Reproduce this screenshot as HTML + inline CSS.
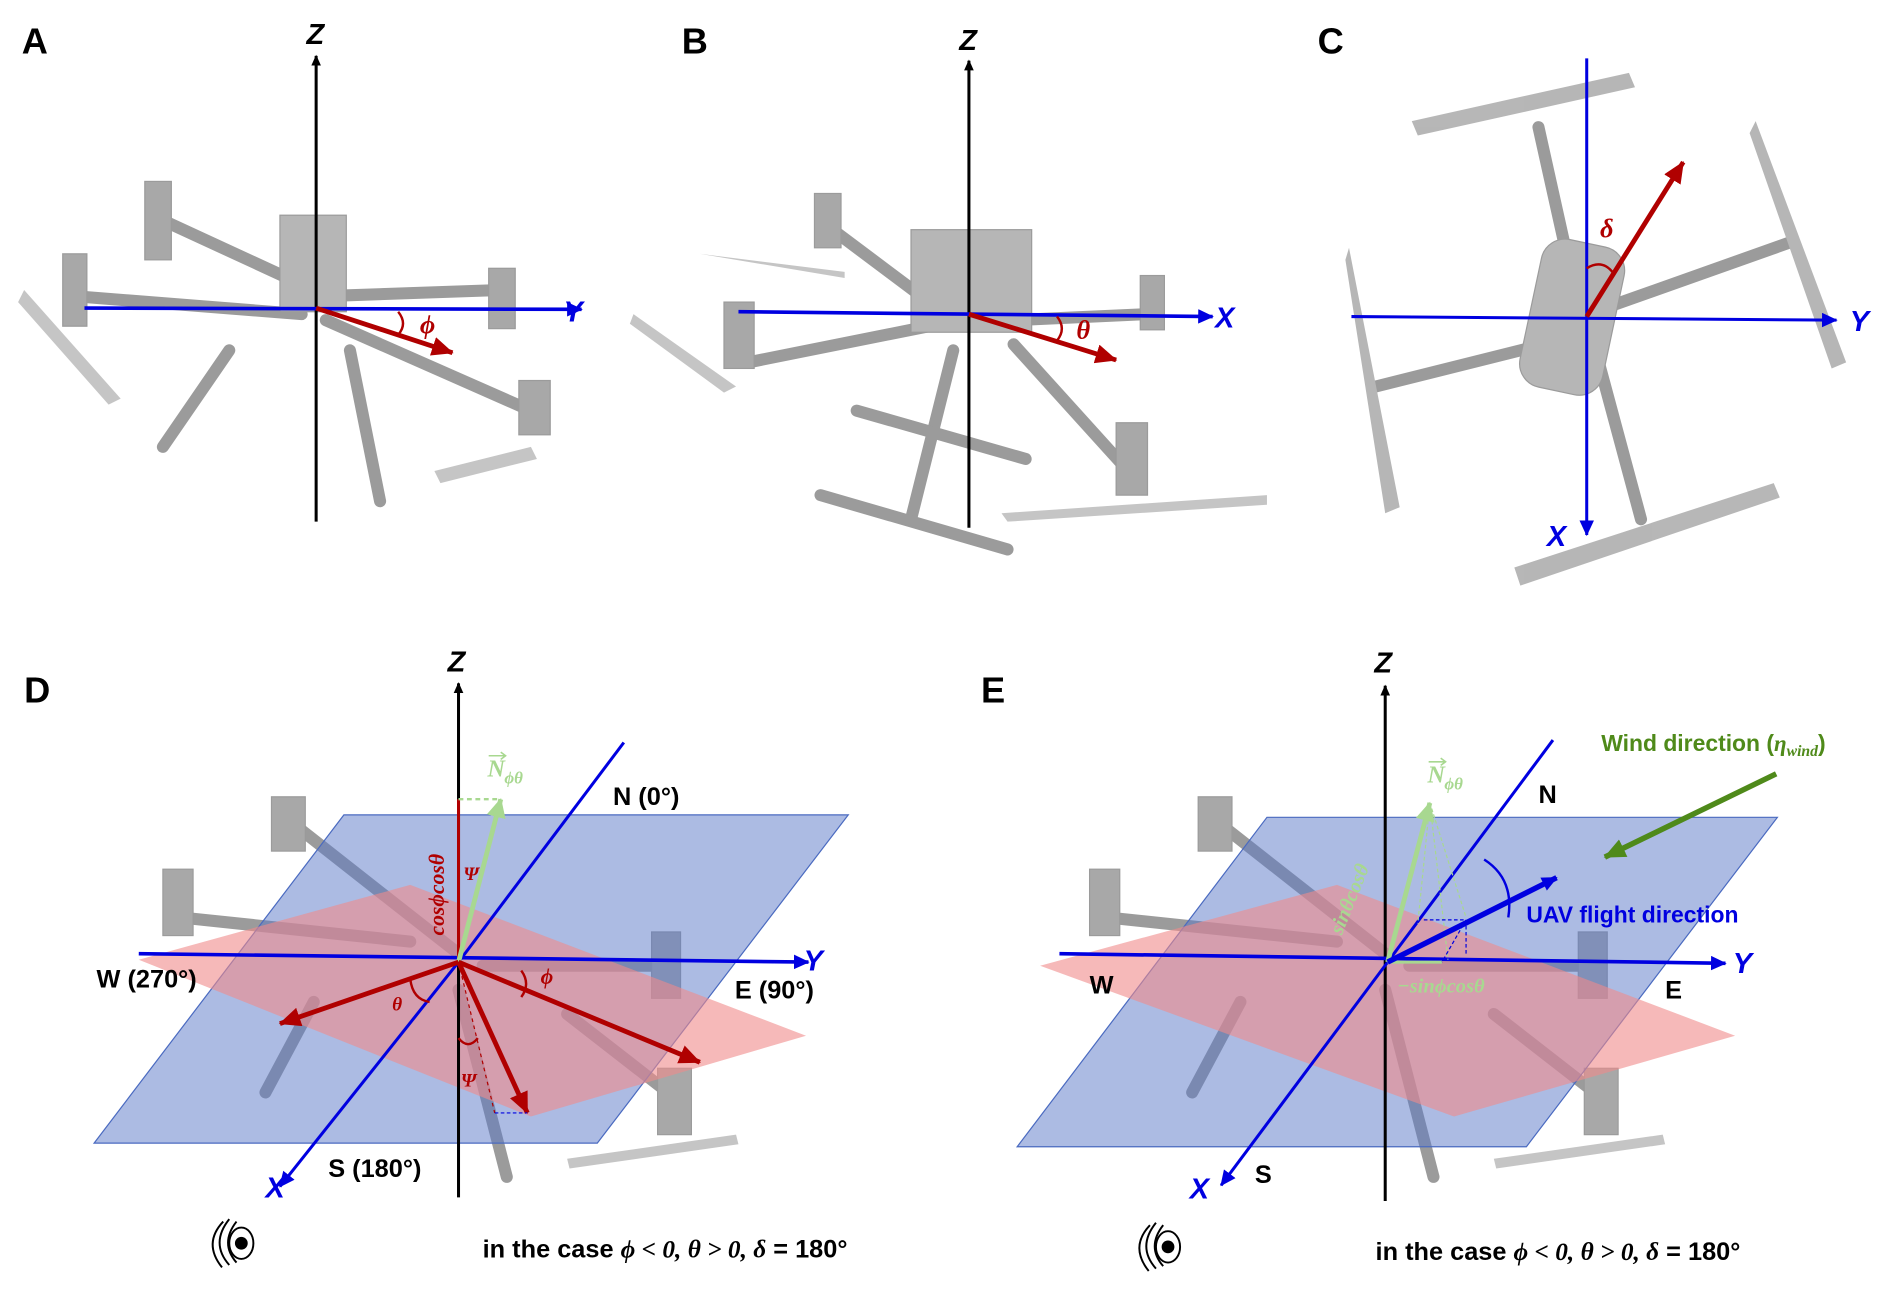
<!DOCTYPE html>
<html><head><meta charset="utf-8"><style>
html,body{margin:0;padding:0;background:#fff}
svg{display:block}
text{font-family:"Liberation Sans",sans-serif}
.lbl{font-weight:bold;font-size:30px}
.ax{font-weight:bold;font-style:italic;font-size:24px}
.dir{font-weight:bold;font-size:21px}
.m{font-family:"Liberation Serif",serif;font-style:italic;font-weight:bold}
</style></head><body>
<svg width="1892" height="1304" viewBox="0 0 1568 1080" xmlns="http://www.w3.org/2000/svg">
<defs>
<marker id="ak" markerWidth="10" markerHeight="10" refX="8" refY="5" orient="auto" markerUnits="userSpaceOnUse"><path d="M0,1 L9,5 L0,9 Z" fill="#000"/></marker>
<marker id="ab" markerWidth="14" markerHeight="12" refX="12" refY="6" orient="auto" markerUnits="userSpaceOnUse"><path d="M0,0 L13,6 L0,12 Z" fill="#0000e0"/></marker>
<marker id="ar" markerWidth="20" markerHeight="16" refX="17" refY="8" orient="auto" markerUnits="userSpaceOnUse"><path d="M0,0 L18,8 L0,16 Z" fill="#b00000"/></marker>
<marker id="ag" markerWidth="18" markerHeight="16" refX="15" refY="8" orient="auto" markerUnits="userSpaceOnUse"><path d="M0,0 L16,8 L0,16 Z" fill="#a8d890"/></marker>
<marker id="adg" markerWidth="20" markerHeight="16" refX="17" refY="8" orient="auto" markerUnits="userSpaceOnUse"><path d="M0,0 L18,8 L0,16 Z" fill="#4f8a1a"/></marker>
</defs>

<!-- ===== Drone silhouettes (grey) ===== -->
<g stroke="#8a8a8a" fill="#9a9a9a" opacity="0.85" stroke-linecap="round">
 <!-- A -->
 <g stroke-width="10">
  <line x1="130" y1="180" x2="260" y2="240"/><line x1="60" y1="245" x2="250" y2="260"/>
  <line x1="270" y1="245" x2="415" y2="240"/><line x1="270" y1="265" x2="440" y2="340"/>
  <line x1="190" y1="290" x2="135" y2="370"/><line x1="290" y1="290" x2="315" y2="415"/>
 </g>
 <rect x="232" y="178" width="55" height="80" fill="#aaa"/>
 <rect x="120" y="150" width="22" height="65"/><rect x="52" y="210" width="20" height="60"/>
 <rect x="405" y="222" width="22" height="50"/><rect x="430" y="315" width="26" height="45"/>
 <path d="M20,240 L100,330 L90,335 L15,250Z M360,390 L440,370 L445,380 L365,400Z" stroke="none" fill="#bbb"/>
 <!-- B -->
 <g stroke-width="10">
  <line x1="690" y1="190" x2="770" y2="250"/><line x1="620" y1="300" x2="770" y2="270"/>
  <line x1="840" y1="265" x2="950" y2="260"/><line x1="840" y1="285" x2="935" y2="390"/>
  <line x1="790" y1="290" x2="755" y2="430"/><line x1="680" y1="410" x2="835" y2="455"/>
  <line x1="710" y1="340" x2="850" y2="380"/>
 </g>
 <rect x="755" y="190" width="100" height="85" fill="#aaa"/>
 <rect x="675" y="160" width="22" height="45"/><rect x="600" y="250" width="25" height="55"/>
 <rect x="945" y="228" width="20" height="45"/><rect x="925" y="350" width="26" height="60"/>
 <path d="M525,260 L610,320 L600,325 L522,268Z M830,425 L1050,410 L1050,418 L835,432Z M580,210 L700,225 L700,230 Z" stroke="none" fill="#bbb"/>
 <!-- C -->
 <g stroke-width="10">
  <line x1="1275" y1="105" x2="1305" y2="240"/><line x1="1140" y1="320" x2="1300" y2="280"/>
  <line x1="1330" y1="255" x2="1485" y2="200"/><line x1="1325" y1="300" x2="1360" y2="430"/>
 </g>
 <rect x="1268" y="200" width="70" height="125" rx="20" fill="#aaa" transform="rotate(12 1303 262)"/>
 <path d="M1170,100 L1350,60 L1355,72 L1175,112Z M1455,100 L1530,300 L1518,305 L1450,110Z M1118,205 L1160,420 L1148,425 L1115,215Z M1255,470 L1470,400 L1475,412 L1260,485Z" stroke="none" fill="#aaa"/>
 <!-- D -->
 <g stroke-width="10">
  <line x1="240" y1="680" x2="380" y2="790"/><line x1="150" y1="760" x2="340" y2="780"/>
  <line x1="400" y1="800" x2="555" y2="800"/><line x1="380" y1="820" x2="420" y2="975"/>
  <line x1="260" y1="830" x2="220" y2="905"/><line x1="470" y1="840" x2="560" y2="910"/>
 </g>
 <rect x="225" y="660" width="28" height="45"/><rect x="135" y="720" width="25" height="55"/>
 <rect x="540" y="772" width="24" height="55"/><rect x="545" y="885" width="28" height="55"/>
 <path d="M470,960 L610,940 L612,948 L472,968Z" stroke="none" fill="#bbb"/>
 <!-- E -->
 <g stroke-width="10">
  <line x1="1008" y1="680" x2="1148" y2="790"/><line x1="918" y1="760" x2="1108" y2="780"/>
  <line x1="1168" y1="800" x2="1323" y2="800"/><line x1="1148" y1="820" x2="1188" y2="975"/>
  <line x1="1028" y1="830" x2="988" y2="905"/><line x1="1238" y1="840" x2="1328" y2="910"/>
 </g>
 <rect x="993" y="660" width="28" height="45"/><rect x="903" y="720" width="25" height="55"/>
 <rect x="1308" y="772" width="24" height="55"/><rect x="1313" y="885" width="28" height="55"/>
 <path d="M1238,960 L1378,940 L1380,948 L1240,968Z" stroke="none" fill="#bbb"/>
</g>

<!-- ===== Planes ===== -->
<polygon points="78,947 285,675 703,675 495,947" fill="#5a78c8" fill-opacity="0.5" stroke="#4a6ac0" stroke-width="1"/>
<polygon points="115,795 340,733 668,858 440,925" fill="#f08a8a" fill-opacity="0.6"/>
<polygon points="843,950 1050,677 1473,677 1265,950" fill="#5a78c8" fill-opacity="0.5" stroke="#4a6ac0" stroke-width="1"/>
<polygon points="862,800 1108,733 1438,858 1205,925" fill="#f08a8a" fill-opacity="0.6"/>

<!-- ===== Labels ===== -->
<text x="18" y="44" class="lbl">A</text>
<text x="565" y="44" class="lbl">B</text>
<text x="1092" y="44" class="lbl">C</text>
<text x="20" y="582" class="lbl">D</text>
<text x="813" y="582" class="lbl">E</text>

<!-- ===== A ===== -->
<line x1="262" y1="432" x2="262" y2="46" stroke="#000" stroke-width="2.5" marker-end="url(#ak)"/>
<text x="254" y="36" class="ax">Z</text>
<line x1="70" y1="255" x2="482" y2="256" stroke="#0000e0" stroke-width="3" marker-end="url(#ab)"/>
<text x="467" y="266" class="ax" fill="#0000e0">Y</text>
<line x1="262" y1="255" x2="375" y2="292" stroke="#b00000" stroke-width="4" marker-end="url(#ar)"/>
<path d="M330,258 Q338,268 330,277" stroke="#b00000" stroke-width="2" fill="none"/>
<text x="348" y="276" class="m" fill="#b00000" font-size="22">ϕ</text>

<!-- ===== B ===== -->
<line x1="803" y1="437" x2="803" y2="50" stroke="#000" stroke-width="2.5" marker-end="url(#ak)"/>
<text x="795" y="41" class="ax">Z</text>
<line x1="612" y1="258" x2="1005" y2="262" stroke="#0000e0" stroke-width="3" marker-end="url(#ab)"/>
<text x="1007" y="271" class="ax" fill="#0000e0">X</text>
<line x1="803" y1="260" x2="925" y2="298" stroke="#b00000" stroke-width="4" marker-end="url(#ar)"/>
<path d="M876,262 Q884,272 876,282" stroke="#b00000" stroke-width="2" fill="none"/>
<text x="892" y="280" class="m" fill="#b00000" font-size="22">θ</text>

<!-- ===== C ===== -->
<line x1="1315" y1="48" x2="1315" y2="443" stroke="#0000e0" stroke-width="2.5" marker-end="url(#ab)"/>
<text x="1282" y="452" class="ax" fill="#0000e0">X</text>
<line x1="1120" y1="262" x2="1522" y2="265" stroke="#0000e0" stroke-width="2.5" marker-end="url(#ab)"/>
<text x="1533" y="274" class="ax" fill="#0000e0">Y</text>
<line x1="1315" y1="262" x2="1395" y2="134" stroke="#b00000" stroke-width="4" marker-end="url(#ar)"/>
<path d="M1315,222 Q1328,214 1337,226" stroke="#b00000" stroke-width="2" fill="none"/>
<text x="1326" y="196" class="m" fill="#b00000" font-size="22">δ</text>

<!-- ===== D ===== -->
<line x1="380" y1="992" x2="380" y2="566" stroke="#000" stroke-width="2.5" marker-end="url(#ak)"/>
<text x="371" y="556" class="ax">Z</text>
<line x1="115" y1="790" x2="670" y2="797" stroke="#0000e0" stroke-width="3" marker-end="url(#ab)"/>
<text x="666" y="804" class="ax" fill="#0000e0">Y</text>
<line x1="380" y1="797" x2="517" y2="615" stroke="#0000e0" stroke-width="2.5"/>
<line x1="380" y1="797" x2="232" y2="983" stroke="#0000e0" stroke-width="2.5" marker-end="url(#ab)"/>
<text x="220" y="992" class="ax" fill="#0000e0">X</text>
<text x="508" y="667" class="dir">N (0°)</text>
<text x="80" y="818" class="dir">W (270°)</text>
<text x="609" y="827" class="dir">E (90°)</text>
<text x="272" y="975" class="dir">S (180°)</text>
<line x1="380" y1="797" x2="380" y2="662" stroke="#b00000" stroke-width="2.5"/>
<line x1="380" y1="662" x2="412" y2="662" stroke="#a8d890" stroke-width="2" stroke-dasharray="4,3"/>
<line x1="380" y1="797" x2="415" y2="662" stroke="#a8d890" stroke-width="4" marker-end="url(#ag)"/>
<text x="404" y="643" class="m" fill="#a8d890" font-size="20">N</text>
<text x="418" y="649" class="m" fill="#a8d890" font-size="14">ϕθ</text>
<path d="M405,626 L419,626 M415,623 L419,626 L415,629" stroke="#a8d890" stroke-width="1.3" fill="none"/>
<text transform="translate(368,775) rotate(-90)" class="m" fill="#b00000" font-size="18">cosϕcosθ</text>
<text x="384" y="729" class="m" fill="#b00000" font-size="16">Ψ</text>
<line x1="380" y1="797" x2="232" y2="848" stroke="#b00000" stroke-width="4" marker-end="url(#ar)"/>
<line x1="380" y1="797" x2="580" y2="880" stroke="#b00000" stroke-width="4" marker-end="url(#ar)"/>
<line x1="380" y1="797" x2="437" y2="922" stroke="#b00000" stroke-width="4" marker-end="url(#ar)"/>
<line x1="380" y1="797" x2="410" y2="922" stroke="#b00000" stroke-width="1" stroke-dasharray="3,3"/>
<line x1="410" y1="922" x2="437" y2="922" stroke="#0000e0" stroke-width="1" stroke-dasharray="3,2"/>
<path d="M432,804 Q440,815 432,826" stroke="#b00000" stroke-width="2" fill="none"/>
<text x="448" y="815" class="m" fill="#b00000" font-size="18">ϕ</text>
<path d="M340,811 Q342,828 356,830" stroke="#b00000" stroke-width="2" fill="none"/>
<text x="325" y="837" class="m" fill="#b00000" font-size="16">θ</text>
<path d="M380,860 Q388,870 396,860" stroke="#b00000" stroke-width="2" fill="none"/>
<text x="382" y="900" class="m" fill="#b00000" font-size="16">Ψ</text>

<!-- eye icon D -->
<g stroke="#000" fill="none" stroke-width="1.6">
 <path d="M185,1012 Q168,1030 184,1050 M190,1010 Q174,1030 190,1048 M196,1012 Q182,1030 196,1046"/>
 <ellipse cx="200" cy="1030" rx="10" ry="13"/><circle cx="200" cy="1030" r="4.5" fill="#000"/>
</g>
<text x="400" y="1042" font-weight="bold" font-size="21">in the case <tspan class="m">ϕ &lt; 0, θ &gt; 0, δ</tspan> = 180°</text>

<!-- ===== E ===== -->
<line x1="1148" y1="995" x2="1148" y2="568" stroke="#000" stroke-width="2.5" marker-end="url(#ak)"/>
<text x="1139" y="557" class="ax">Z</text>
<line x1="878" y1="790" x2="1430" y2="798" stroke="#0000e0" stroke-width="3" marker-end="url(#ab)"/>
<text x="1436" y="806" class="ax" fill="#0000e0">Y</text>
<line x1="1150" y1="797" x2="1287" y2="613" stroke="#0000e0" stroke-width="2.5"/>
<line x1="1150" y1="797" x2="1012" y2="982" stroke="#0000e0" stroke-width="2.5" marker-end="url(#ab)"/>
<text x="986" y="993" class="ax" fill="#0000e0">X</text>
<text x="1275" y="665" class="dir">N</text>
<text x="903" y="823" class="dir">W</text>
<text x="1380" y="827" class="dir">E</text>
<text x="1040" y="980" class="dir">S</text>
<line x1="1150" y1="797" x2="1185" y2="665" stroke="#a8d890" stroke-width="4" marker-end="url(#ag)"/>
<path d="M1185,665 L1175,765 M1185,665 L1215,760 M1185,665 L1200,795" stroke="#a8d890" stroke-width="1" stroke-dasharray="3,2" fill="none"/>
<line x1="1150" y1="797" x2="1195" y2="797" stroke="#a8d890" stroke-width="2.5"/>
<path d="M1180,762 L1215,762 L1195,797 M1215,762 L1215,790" stroke="#0000e0" stroke-width="1" stroke-dasharray="3,2" fill="none"/>
<text x="1183" y="648" class="m" fill="#a8d890" font-size="20">N</text>
<text x="1197" y="654" class="m" fill="#a8d890" font-size="14">ϕθ</text>
<path d="M1184,631 L1198,631 M1194,628 L1198,631 L1194,634" stroke="#a8d890" stroke-width="1.3" fill="none"/>
<text transform="translate(1112,775) rotate(-68)" class="m" fill="#a8d890" font-size="17">sinθcosθ</text>
<text x="1158" y="822" class="m" fill="#a8d890" font-size="17">−sinϕcosθ</text>
<line x1="1150" y1="797" x2="1290" y2="727" stroke="#0000e0" stroke-width="4.5" marker-end="url(#ab)"/>
<path d="M1230,712 Q1255,728 1250,760" stroke="#0000e0" stroke-width="2" fill="none"/>
<text x="1265" y="764" font-weight="bold" font-size="19" fill="#0000e0">UAV flight direction</text>
<line x1="1472" y1="641" x2="1330" y2="710" stroke="#4f8a1a" stroke-width="4.5" marker-end="url(#adg)"/>
<text x="1327" y="622" font-weight="bold" font-size="19" fill="#4f8a1a">Wind direction (<tspan class="m">η<tspan font-size="13" dy="4">wind</tspan></tspan><tspan dy="-4">)</tspan></text>

<!-- eye icon E -->
<g stroke="#000" fill="none" stroke-width="1.6">
 <path d="M953,1015 Q936,1033 952,1053 M958,1013 Q942,1033 958,1051 M964,1015 Q950,1033 964,1049"/>
 <ellipse cx="968" cy="1033" rx="10" ry="13"/><circle cx="968" cy="1033" r="4.5" fill="#000"/>
</g>
<text x="1140" y="1044" font-weight="bold" font-size="21">in the case <tspan class="m">ϕ &lt; 0, θ &gt; 0, δ</tspan> = 180°</text>
</svg>
</body></html>
